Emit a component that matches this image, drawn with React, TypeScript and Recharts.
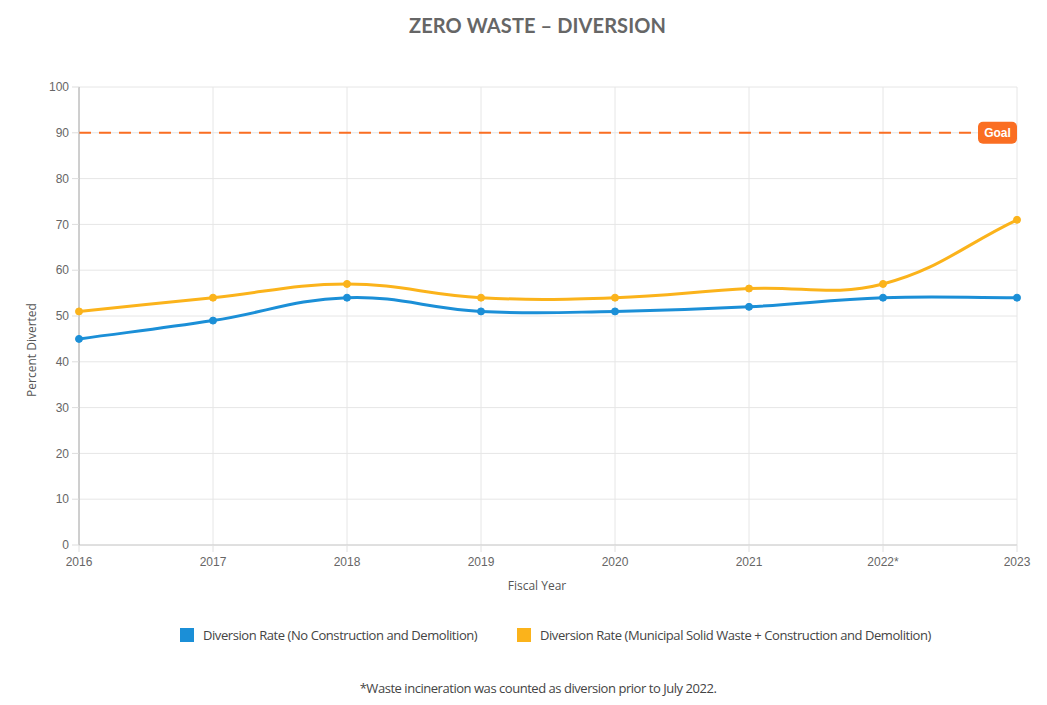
import React from "react";
import {
  LineChart,
  Line,
  XAxis,
  YAxis,
  CartesianGrid,
  ReferenceLine,
} from "recharts";

const years = ["2016", "2017", "2018", "2019", "2020", "2021", "2022*", "2023"];
const noCD = [45, 49, 54, 51, 51, 52, 54, 54];
const mswCD = [51, 54, 57, 54, 54, 56, 57, 71];
const yTicks = [0, 10, 20, 30, 40, 50, 60, 70, 80, 90, 100];
const goalValue = 90;

const seriesNames = [
  "Diversion Rate (No Construction and Demolition)",
  "Diversion Rate (Municipal Solid Waste + Construction and Demolition)",
];

const data = years.map((y, i) => ({ year: y, noCD: noCD[i], mswCD: mswCD[i] }));

const BLUE = "#1b8fd7";
const ORANGE = "#fbb31b";
const GOAL = "#fa6e22";

// Chart.js-like tension spline (tension 0.4)
const tensionCurve: any = (context: any) => {
  let pts: [number, number][] = [];
  const t = 0.4;
  return {
    areaStart() {},
    areaEnd() {},
    lineStart() {
      pts = [];
    },
    lineEnd() {
      const n = pts.length;
      if (!n) return;
      const cps = pts.map((cur, i) => {
        const prev = i > 0 ? pts[i - 1] : cur;
        const next = i < n - 1 ? pts[i + 1] : cur;
        const d01 = Math.hypot(cur[0] - prev[0], cur[1] - prev[1]);
        const d12 = Math.hypot(next[0] - cur[0], next[1] - cur[1]);
        let s01 = d01 / (d01 + d12);
        let s12 = d12 / (d01 + d12);
        if (isNaN(s01)) s01 = 0;
        if (isNaN(s12)) s12 = 0;
        const fa = t * s01;
        const fb = t * s12;
        return {
          p: [cur[0] - fa * (next[0] - prev[0]), cur[1] - fa * (next[1] - prev[1])],
          n: [cur[0] + fb * (next[0] - prev[0]), cur[1] + fb * (next[1] - prev[1])],
        };
      });
      context.moveTo(pts[0][0], pts[0][1]);
      for (let i = 1; i < n; i++) {
        const a = cps[i - 1].n;
        const b = cps[i].p;
        context.bezierCurveTo(a[0], a[1], b[0], b[1], pts[i][0], pts[i][1]);
      }
    },
    point(x: number, y: number) {
      pts.push([+x, +y]);
    },
  };
};

const GoalLabel = (props: any) => {
  const vb = props.viewBox || {};
  const right = (vb.x || 0) + (vb.width || 0);
  const y = vb.y || 0;
  const w = 39;
  const h = 22;
  return (
    <g>
      <rect x={right - w} y={y - h / 2} width={w} height={h} rx={5} ry={5} fill={GOAL} />
      <text
        x={right - w / 2}
        y={y + 4}
        textAnchor="middle"
        fill="#fff"
        fontFamily="Liberation Sans, Arial, sans-serif"
        fontWeight="bold"
        fontSize={12}
      >
        Goal
      </text>
    </g>
  );
};

export default function App() {
  return (
    <div
      style={{
        position: "absolute",
        left: 0,
        top: 0,
        width: 1047,
        height: 705,
        background: "#fff",
        overflow: "hidden",
      }}
    >
      <div
        style={{
          position: "absolute",
          top: 13,
          left: 0,
          width: 1075,
          textAlign: "center",
          fontFamily: "Lato, sans-serif",
          fontWeight: 700,
          fontSize: 20,
          letterSpacing: 0.1,
          color: "#666",
        }}
      >
        ZERO WASTE – DIVERSION
      </div>

      <div style={{ position: "absolute", left: 0, top: 0 }}>
        <LineChart
          width={1047}
          height={705}
          data={data}
          margin={{ top: 87, right: 30, left: 20, bottom: 130 }}
        >
          <CartesianGrid stroke="#e6e6e6" vertical={true} horizontal={true} />
          <XAxis
            dataKey="year"
            scale="point"
            padding={{ left: 0, right: 0 }}
            height={30}
            axisLine={{ stroke: "#cccccc" }}
            tickLine={{ stroke: "#e0e0e0" }}
            tickSize={7}
            tick={{ fill: "#666", fontSize: 12, fontFamily: "Liberation Sans, Arial, sans-serif" }}
            tickMargin={5}
            interval={0}
          />
          <YAxis
            type="number"
            domain={[0, 100]}
            ticks={yTicks}
            width={59}
            axisLine={{ stroke: "#aaaaaa" }}
            tickLine={{ stroke: "#dddddd" }}
            tickSize={7}
            tickMargin={3}
            tick={{ fill: "#666", fontSize: 12, fontFamily: "Liberation Sans, Arial, sans-serif" }}
            interval={0}
          />
          <ReferenceLine
            y={goalValue}
            stroke={GOAL}
            strokeWidth={2}
            strokeDasharray="12 8"
            label={<GoalLabel />}
          />
          <Line
            dataKey="noCD"
            name={seriesNames[0]}
            type={tensionCurve}
            stroke={BLUE}
            strokeWidth={3}
            dot={{ r: 3.5, fill: BLUE, stroke: BLUE, strokeWidth: 1 }}
            isAnimationActive={false}
          />
          <Line
            dataKey="mswCD"
            name={seriesNames[1]}
            type={tensionCurve}
            stroke={ORANGE}
            strokeWidth={3}
            dot={{ r: 3.5, fill: ORANGE, stroke: ORANGE, strokeWidth: 1 }}
            isAnimationActive={false}
          />
        </LineChart>
      </div>

      <div
        style={{
          position: "absolute",
          left: 31,
          top: 350,
          transform: "translate(-50%, -50%) rotate(-90deg)",
          fontFamily: "Open Sans, sans-serif",
          fontSize: 12,
          color: "#555",
          whiteSpace: "nowrap",
        }}
      >
        Percent Diverted
      </div>
      <div
        style={{
          position: "absolute",
          left: 537,
          top: 585,
          transform: "translate(-50%, -50%)",
          fontFamily: "Open Sans, sans-serif",
          fontSize: 12,
          color: "#555",
          whiteSpace: "nowrap",
        }}
      >
        Fiscal Year
      </div>

      {[0, 1].map((i) => (
        <div
          key={i}
          style={{
            position: "absolute",
            left: i === 0 ? 180 : 517,
            top: 626,
            display: "flex",
            alignItems: "center",
            fontFamily: "Open Sans, sans-serif",
            fontSize: 13,
            letterSpacing: -0.43,
            color: "#444",
            whiteSpace: "nowrap",
          }}
        >
          <span
            style={{
              display: "inline-block",
              width: 14,
              height: 14,
              background: i === 0 ? BLUE : ORANGE,
              marginRight: 9,
            }}
          />
          {seriesNames[i]}
        </div>
      ))}

      <div
        style={{
          position: "absolute",
          left: 538,
          top: 688,
          transform: "translate(-50%, -50%)",
          fontFamily: "Open Sans, sans-serif",
          fontSize: 13,
          letterSpacing: -0.46,
          color: "#444",
          whiteSpace: "nowrap",
        }}
      >
        *Waste incineration was counted as diversion prior to July 2022.
      </div>
    </div>
  );
}
